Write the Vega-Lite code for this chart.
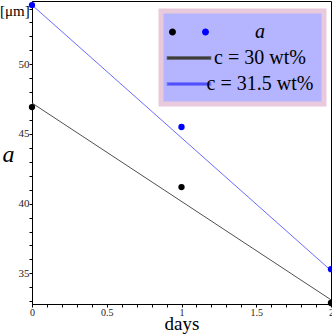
{
  "$schema": "https://vega.github.io/schema/vega-lite/v6.json",
  "width": 299,
  "height": 303,
  "autosize": {"type": "none"},
  "padding": {"left": 32, "top": 1, "right": 1, "bottom": 30},
  "background": "white",
  "config": {
    "view": {"stroke": "black", "strokeWidth": 1},
    "font": "Liberation Serif"
  },
  "title": {
    "text": "[μm]",
    "anchor": "start",
    "frame": "group",
    "orient": "top",
    "dx": -32,
    "dy": 18,
    "offset": 0,
    "fontSize": 15,
    "font": "Liberation Serif",
    "fontWeight": "normal",
    "color": "black"
  },
  "datasets": {
    "points": [
      {"days": 0, "a": 46.93, "conc": "30"},
      {"days": 1, "a": 41.19, "conc": "30"},
      {"days": 2, "a": 32.87, "conc": "30"},
      {"days": 0, "a": 54.25, "conc": "31.5"},
      {"days": 1, "a": 45.5, "conc": "31.5"},
      {"days": 2, "a": 35.3, "conc": "31.5"}
    ],
    "lines": [
      {"days": 0, "a": 47.22, "series": "c = 30 wt%"},
      {"days": 2, "a": 33.1, "series": "c = 30 wt%"},
      {"days": 0, "a": 54.25, "series": "c = 31.5 wt%"},
      {"days": 2, "a": 35.2, "series": "c = 31.5 wt%"}
    ]
  },
  "encoding": {
    "x": {
      "field": "days",
      "type": "quantitative",
      "scale": {"domain": [0, 2], "nice": false, "zero": false},
      "axis": {
        "title": "days",
        "values": [0, 0.1, 0.2, 0.3, 0.4, 0.5, 0.6, 0.7, 0.8, 0.9, 1, 1.1, 1.2, 1.3, 1.4, 1.5, 1.6, 1.7, 1.8, 1.9, 2],
        "labelExpr": "abs(datum.value*2 - round(datum.value*2)) < 0.001 ? format(datum.value, '~g') : ''",
        "labelOverlap": false,
        "labelFlush": false,
        "grid": false,
        "domainColor": "black",
        "tickColor": "black",
        "tickSize": 3,
        "labelFont": "Liberation Serif",
        "labelFontSize": 10,
        "labelColor": "#222222",
        "labelPadding": 0,
        "titleFont": "Liberation Serif",
        "titleFontSize": 19,
        "titleFontWeight": "normal",
        "titleColor": "black",
        "titleBaseline": "alphabetic",
        "titleY": 25
      }
    },
    "y": {
      "field": "a",
      "type": "quantitative",
      "scale": {"domain": [32.8, 54.54], "nice": false, "zero": false},
      "axis": {
        "title": "a",
        "values": [33, 34, 35, 36, 37, 38, 39, 40, 41, 42, 43, 44, 45, 46, 47, 48, 49, 50, 51, 52, 53, 54],
        "labelExpr": "datum.value % 5 === 0 ? format(datum.value, 'd') : ''",
        "labelOverlap": false,
        "labelFlush": false,
        "grid": false,
        "domainColor": "black",
        "tickColor": "black",
        "tickSize": 3,
        "labelFont": "Liberation Serif",
        "labelFontSize": 11,
        "labelColor": "#222222",
        "labelPadding": 0,
        "titleFont": "Liberation Serif",
        "titleFontSize": 24,
        "titleFontStyle": "italic",
        "titleFontWeight": "normal",
        "titleColor": "black",
        "titleAngle": 0,
        "titleAlign": "center",
        "titleBaseline": "alphabetic",
        "titleX": -24,
        "titleY": 160
      }
    }
  },
  "layer": [
    {
      "data": {"name": "lines"},
      "mark": {"type": "line", "strokeWidth": 1},
      "encoding": {
        "stroke": {
          "field": "series",
          "type": "nominal",
          "scale": {
            "domain": ["a", "c = 30 wt%", "c = 31.5 wt%"],
            "range": ["transparent", "#505050", "#6b6bff"]
          },
          "legend": {
            "orient": "none",
            "legendX": 129,
            "legendY": 10,
            "title": null,
            "padding": 10,
            "symbolSize": 400,
            "symbolOffset": 0,
            "labelFont": "Liberation Serif",
            "labelFontSize": 20,
            "labelColor": "black",
            "labelLimit": 300,
            "rowPadding": 5,
            "encode": {
              "legend": {
                "update": {
                  "fill": {"value": "#b4b4ff"},
                  "stroke": {"value": "#e9c9dc"},
                  "strokeWidth": {"value": 5}
                }
              },
              "symbols": {
                "update": {
                  "shape": {"signal": "datum.value === 'a' ? 'M-1.3,0a0.35,0.35 0 1,0 0.7,0a0.35,0.35 0 1,0 -0.7,0M2.0,0a0.35,0.35 0 1,0 0.7,0a0.35,0.35 0 1,0 -0.7,0' : 'M-1.45,-0.1H2.85V0.1H-1.45Z'"},
                  "fill": {"signal": "datum.value === 'a' ? {gradient: 'linear', x1: 0, y1: 0, x2: 1, y2: 0, stops: [{offset: 0, color: 'black'}, {offset: 0.5, color: 'black'}, {offset: 0.5, color: 'blue'}, {offset: 1, color: 'blue'}]} : datum.value === 'c = 30 wt%' ? 'black' : 'blue'"},
                  "stroke": {"value": "transparent"},
                  "opacity": {"value": 1}
                }
              },
              "labels": {
                "update": {
                  "dx": {"value": 63},
                  "align": {"value": "center"},
                  "font": {"value": "Liberation Serif"},
                  "fontStyle": {"signal": "datum.value === 'a' ? 'italic' : 'normal'"}
                }
              }
            }
          }
        }
      }
    },
    {
      "data": {"name": "points"},
      "mark": {"type": "point", "filled": true, "size": 40, "opacity": 1},
      "encoding": {
        "fill": {
          "field": "conc",
          "type": "nominal",
          "scale": {"domain": ["30", "31.5"], "range": ["black", "blue"]},
          "legend": null
        }
      }
    }
  ]
}
